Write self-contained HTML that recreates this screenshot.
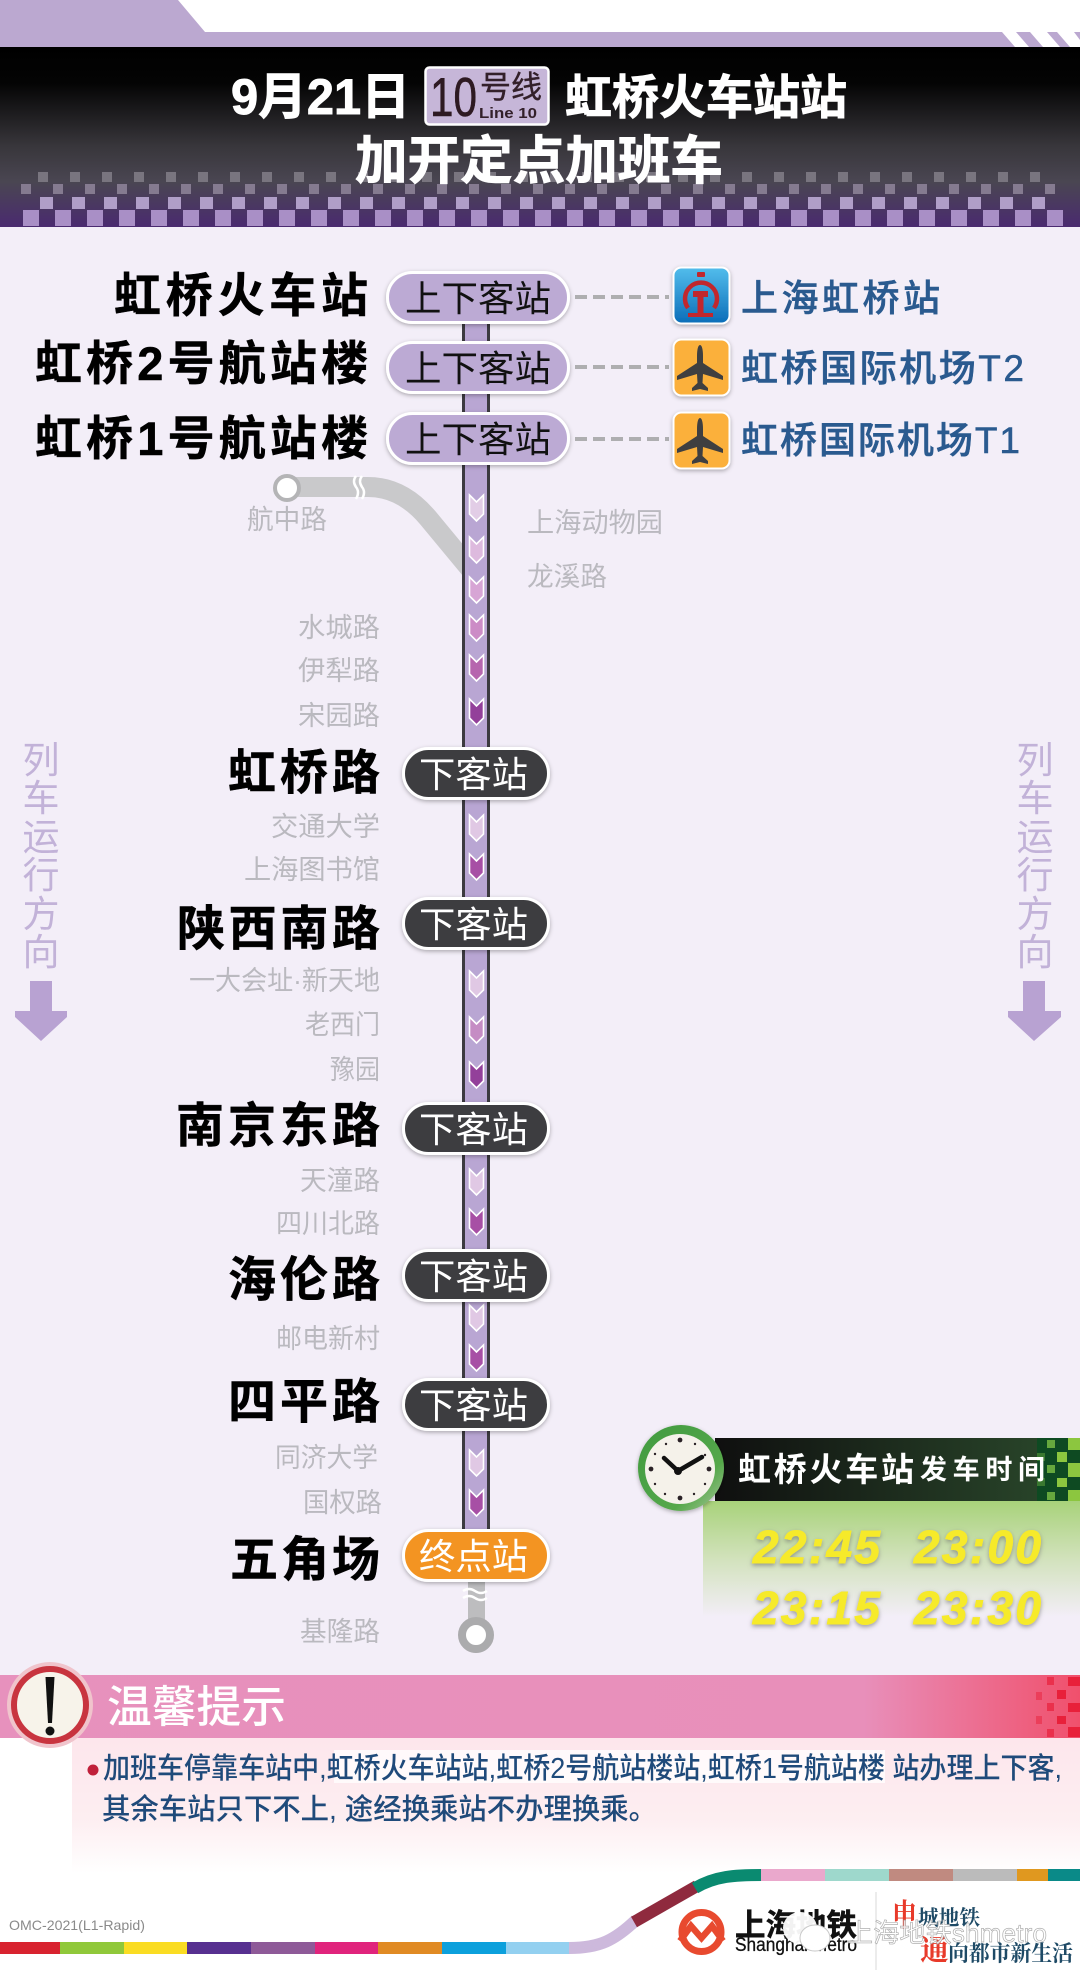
<!DOCTYPE html>
<html lang="zh"><head><meta charset="utf-8"><title>10号线 加班车</title>
<style>
html,body{margin:0;padding:0;background:#fff;width:1080px;height:1983px;overflow:hidden}
svg{display:block}
text{font-family:"Liberation Sans","Noto Sans CJK SC",sans-serif;white-space:pre}
.big{font-size:48px;font-weight:700;fill:#000;stroke:#000;stroke-width:.5;text-anchor:end}
.top{font-size:47px;font-weight:700;fill:#000;stroke:#000;stroke-width:.5;text-anchor:end}
.g{font-size:27px;fill:#bab9bf;text-anchor:end}
.gl{font-size:27px;fill:#bab9bf}
.pill{font-size:36px}
.blue{font-size:37px;fill:#2a5a8f;font-weight:500;stroke:#2a5a8f;stroke-width:.5}
.dir{font-size:37px;fill:#c2b2d8;text-anchor:middle}
.time{font-size:46px;font-weight:700;font-style:italic;fill:#f6ea2a;stroke:#f6ea2a;stroke-width:.9}
.note{font-size:29px;fill:#1f4a7a;font-weight:500}
.ser{font-family:"Liberation Serif","Noto Serif CJK SC",serif;font-weight:700}
.ti{fill:#fff;stroke:#fff;stroke-width:.9;font-weight:700}
</style></head><body>
<svg xmlns="http://www.w3.org/2000/svg" width="1080" height="1983" viewBox="0 0 1080 1983">
<defs>
<linearGradient id="hd" x1="0" y1="0" x2="0" y2="1"><stop offset="0" stop-color="#000"/><stop offset=".2" stop-color="#040404"/><stop offset=".55" stop-color="#38363b"/><stop offset=".75" stop-color="#4a4652"/><stop offset="1" stop-color="#4a2a70"/></linearGradient>
<linearGradient id="pk" x1="0" y1="0" x2="1" y2="0"><stop offset="0" stop-color="#e791bd"/><stop offset=".8" stop-color="#e88fba"/><stop offset="1" stop-color="#f0506c"/></linearGradient>
<linearGradient id="pale" x1="0" y1="0" x2="0" y2="1"><stop offset="0" stop-color="#fde6ec"/><stop offset=".6" stop-color="#fdeef1"/><stop offset="1" stop-color="#fff"/></linearGradient>
<linearGradient id="bar" x1="0" y1="0" x2="1" y2="0"><stop offset="0" stop-color="#0f0f0f"/><stop offset="1" stop-color="#2b4a2c"/></linearGradient>
<linearGradient id="grn" x1="0" y1="0" x2="0" y2="1"><stop offset="0" stop-color="#a8d27a"/><stop offset=".5" stop-color="#d2e2bc"/><stop offset="1" stop-color="#f3eef8"/></linearGradient>
<linearGradient id="ring" x1="0" y1="0" x2="1" y2="1"><stop offset="0" stop-color="#3f9a3f"/><stop offset=".7" stop-color="#55a84a"/><stop offset="1" stop-color="#a9c79a"/></linearGradient>
<linearGradient id="rail" x1="0" y1="0" x2="0" y2="1"><stop offset="0" stop-color="#53bdec"/><stop offset="1" stop-color="#0a6db8"/></linearGradient>
<filter id="sh" x="-10%" y="-20%" width="120%" height="150%"><feDropShadow dx="0" dy="1.5" stdDeviation="2" flood-color="#000" flood-opacity=".3"/></filter>
<filter id="ts" x="-10%" y="-20%" width="120%" height="150%"><feDropShadow dx="0" dy="2" stdDeviation="2.5" flood-color="#777" flood-opacity=".7"/></filter>
<pattern id="c1" width="32" height="10" patternUnits="userSpaceOnUse" x="38" y="172"><rect width="10" height="10" fill="#79757f"/></pattern>
<pattern id="c2" width="32" height="10" patternUnits="userSpaceOnUse" x="21" y="184"><rect width="10" height="10" fill="#857b90"/></pattern>
<pattern id="c3" width="32" height="12" patternUnits="userSpaceOnUse" x="40" y="197"><rect width="13" height="12" fill="#b09ec8"/></pattern>
<pattern id="c4" width="32" height="16" patternUnits="userSpaceOnUse" x="23" y="210"><rect width="16" height="16" fill="#a98fc6"/></pattern>
</defs>

<rect width="1080" height="1983" fill="#fff"/>
<rect x="0" y="227" width="1080" height="1448" fill="#f3eef8"/>

<!-- top band -->
<polygon points="0,0 178,0 205,32 1080,32 1080,47 0,47" fill="#bba8d0"/>
<polygon points="1002,32 1016,32 1029,47 1015,47" fill="#fff"/>
<polygon points="1030,32 1047,32 1060,47 1043,47" fill="#fff"/>
<polygon points="1057,32 1074,32 1080,40 1080,47 1070,47" fill="#fff"/>

<!-- header -->
<rect x="0" y="47" width="1080" height="180" fill="url(#hd)"/>
<rect x="38" y="172" width="1010" height="10" fill="url(#c1)"/>
<rect x="21" y="184" width="1040" height="10" fill="url(#c2)"/>
<rect x="40" y="197" width="1005" height="12" fill="url(#c3)"/>
<rect x="23" y="210" width="1040" height="16" fill="url(#c4)"/>

<text class="ti" x="231" y="114" font-size="50" textLength="179" lengthAdjust="spacingAndGlyphs">9月21日</text>
<rect x="425.5" y="67.5" width="123" height="57" rx="4" fill="#c6b6d8" stroke="#fff" stroke-width="2.5"/>
<text x="430" y="116" font-size="55" fill="#2e1a22" stroke="#2e1a22" stroke-width=".6" textLength="47" lengthAdjust="spacingAndGlyphs">10</text>
<text x="480" y="98" font-size="31" fill="#33202a" stroke="#33202a" stroke-width=".4" textLength="62" lengthAdjust="spacingAndGlyphs">号线</text>
<text x="479" y="118" font-size="15" font-weight="700" fill="#33202a" textLength="58" lengthAdjust="spacingAndGlyphs">Line 10</text>
<text class="ti" x="565" y="114" font-size="47" textLength="282" lengthAdjust="spacingAndGlyphs">虹桥火车站站</text>
<text class="ti" x="355" y="179" font-size="52" textLength="368" lengthAdjust="spacingAndGlyphs">加开定点加班车</text>

<!-- branch line -->
<path d="M287 487 H368 C392 487 412 499 428 518 L476 576" fill="none" stroke="#c9c9cb" stroke-width="20"/>
<path d="M356 476 q-4 5 0 11 q4 5 0 12 M362 476 q-4 5 0 11 q4 5 0 12" fill="none" stroke="#fff" stroke-width="2.5"/>
<circle cx="287" cy="488" r="12" fill="#fff" stroke="#b4b4b6" stroke-width="4"/>

<!-- trunk -->
<rect x="463.5" y="320" width="25" height="1215" fill="#b9a6d3" stroke="#3c3a40" stroke-width="3"/>

<!-- bottom stub -->
<rect x="468" y="1575" width="17" height="50" fill="#bdbdbf"/>
<circle cx="476" cy="1635" r="14" fill="#fff" stroke="#ababad" stroke-width="8"/>
<path d="M463 1591 q6 -4 12 0 q6 4 12 0 M463 1598 q6 -4 12 0 q6 4 12 0" fill="none" stroke="#fff" stroke-width="2.5"/>

<!-- chevrons -->
<g stroke="#fff" stroke-width="1.6">
<path transform="translate(476.5 508)" d="M-7 -13 L0 -6 L7 -13 V6 L0 13 L-7 6 Z" fill="#e2cde6"/>
<path transform="translate(476.5 550)" d="M-7 -13 L0 -6 L7 -13 V6 L0 13 L-7 6 Z" fill="#ddbade"/>
<path transform="translate(476.5 590)" d="M-7 -13 L0 -6 L7 -13 V6 L0 13 L-7 6 Z" fill="#d7a5d5"/>
<path transform="translate(476.5 628)" d="M-7 -13 L0 -6 L7 -13 V6 L0 13 L-7 6 Z" fill="#cc8cc6"/>
<path transform="translate(476.5 668)" d="M-7 -13 L0 -6 L7 -13 V6 L0 13 L-7 6 Z" fill="#b666ae"/>
<path transform="translate(476.5 712)" d="M-7 -13 L0 -6 L7 -13 V6 L0 13 L-7 6 Z" fill="#93409a"/>
<path transform="translate(476.5 828)" d="M-7 -13 L0 -6 L7 -13 V6 L0 13 L-7 6 Z" fill="#e0c8e4"/>
<path transform="translate(476.5 867)" d="M-7 -13 L0 -6 L7 -13 V6 L0 13 L-7 6 Z" fill="#a74fa5"/>
<path transform="translate(476.5 984)" d="M-7 -13 L0 -6 L7 -13 V6 L0 13 L-7 6 Z" fill="#e0c8e4"/>
<path transform="translate(476.5 1030)" d="M-7 -13 L0 -6 L7 -13 V6 L0 13 L-7 6 Z" fill="#c58cc4"/>
<path transform="translate(476.5 1075)" d="M-7 -13 L0 -6 L7 -13 V6 L0 13 L-7 6 Z" fill="#93409a"/>
<path transform="translate(476.5 1182)" d="M-7 -13 L0 -6 L7 -13 V6 L0 13 L-7 6 Z" fill="#e0c8e4"/>
<path transform="translate(476.5 1222)" d="M-7 -13 L0 -6 L7 -13 V6 L0 13 L-7 6 Z" fill="#a74fa5"/>
<path transform="translate(476.5 1318)" d="M-7 -13 L0 -6 L7 -13 V6 L0 13 L-7 6 Z" fill="#e0c8e4"/>
<path transform="translate(476.5 1358)" d="M-7 -13 L0 -6 L7 -13 V6 L0 13 L-7 6 Z" fill="#a74fa5"/>
<path transform="translate(476.5 1463)" d="M-7 -13 L0 -6 L7 -13 V6 L0 13 L-7 6 Z" fill="#e0c8e4"/>
<path transform="translate(476.5 1503)" d="M-7 -13 L0 -6 L7 -13 V6 L0 13 L-7 6 Z" fill="#a74fa5"/>
</g>

<!-- purple pills -->
<g fill="#bcaad4" stroke="#fff" stroke-width="3" filter="url(#sh)">
<rect x="387.5" y="272.5" width="181" height="50" rx="25"/>
<rect x="387.5" y="342.5" width="181" height="50" rx="25"/>
<rect x="387.5" y="413.5" width="181" height="50" rx="25"/>
</g>
<g class="pill" fill="#111">
<text class="pill" x="405" y="311" textLength="146" lengthAdjust="spacingAndGlyphs">上下客站</text>
<text class="pill" x="405" y="381" textLength="146" lengthAdjust="spacingAndGlyphs">上下客站</text>
<text class="pill" x="405" y="452" textLength="146" lengthAdjust="spacingAndGlyphs">上下客站</text>
</g>

<!-- dark pills -->
<g fill="#3d3d3f" stroke="#fff" stroke-width="3" filter="url(#sh)">
<rect x="403.5" y="748.5" width="145" height="50" rx="25"/>
<rect x="403.5" y="898.5" width="145" height="50" rx="25"/>
<rect x="403.5" y="1103.5" width="145" height="50" rx="25"/>
<rect x="403.5" y="1250.5" width="145" height="50" rx="25"/>
<rect x="403.5" y="1379.5" width="145" height="50" rx="25"/>
<rect x="403.5" y="1530.5" width="145" height="50" rx="25" fill="#f39420"/>
</g>
<g fill="#fff">
<text class="pill" x="419" y="787" textLength="109" lengthAdjust="spacingAndGlyphs">下客站</text>
<text class="pill" x="419" y="937" textLength="109" lengthAdjust="spacingAndGlyphs">下客站</text>
<text class="pill" x="419" y="1142" textLength="109" lengthAdjust="spacingAndGlyphs">下客站</text>
<text class="pill" x="419" y="1289" textLength="109" lengthAdjust="spacingAndGlyphs">下客站</text>
<text class="pill" x="419" y="1418" textLength="109" lengthAdjust="spacingAndGlyphs">下客站</text>
<text class="pill" x="419" y="1569" textLength="109" lengthAdjust="spacingAndGlyphs">终点站</text>
</g>

<!-- top station names -->
<text class="top" x="368" y="312" textLength="254" lengthAdjust="spacing">虹桥火车站</text>
<text class="top" x="368" y="380" textLength="333" lengthAdjust="spacing">虹桥2号航站楼</text>
<text class="top" x="368" y="455" textLength="333" lengthAdjust="spacing">虹桥1号航站楼</text>

<!-- big names -->
<text class="big" x="380" y="789" textLength="152" lengthAdjust="spacing">虹桥路</text>
<text class="big" x="380" y="945" textLength="203" lengthAdjust="spacing">陕西南路</text>
<text class="big" x="380" y="1142" textLength="204" lengthAdjust="spacing">南京东路</text>
<text class="big" x="380" y="1296" textLength="152" lengthAdjust="spacing">海伦路</text>
<text class="big" x="380" y="1418" textLength="152" lengthAdjust="spacing">四平路</text>
<text class="big" x="380" y="1576" textLength="150" lengthAdjust="spacing">五角场</text>

<!-- grey names -->
<text class="gl" x="247" y="529" textLength="80" lengthAdjust="spacingAndGlyphs">航中路</text>
<text class="gl" x="527" y="532" textLength="136" lengthAdjust="spacingAndGlyphs">上海动物园</text>
<text class="gl" x="527" y="586" textLength="80" lengthAdjust="spacingAndGlyphs">龙溪路</text>
<text class="g" x="380" y="637" textLength="82" lengthAdjust="spacingAndGlyphs">水城路</text>
<text class="g" x="380" y="680" textLength="82" lengthAdjust="spacingAndGlyphs">伊犁路</text>
<text class="g" x="380" y="725" textLength="82" lengthAdjust="spacingAndGlyphs">宋园路</text>
<text class="g" x="380" y="836" textLength="109" lengthAdjust="spacingAndGlyphs">交通大学</text>
<text class="g" x="380" y="879" textLength="136" lengthAdjust="spacingAndGlyphs">上海图书馆</text>
<text class="g" x="380" y="990" textLength="191" lengthAdjust="spacingAndGlyphs">一大会址·新天地</text>
<text class="g" x="380" y="1034" textLength="75" lengthAdjust="spacingAndGlyphs">老西门</text>
<text class="g" x="380" y="1079" textLength="50" lengthAdjust="spacingAndGlyphs">豫园</text>
<text class="g" x="380" y="1190" textLength="80" lengthAdjust="spacingAndGlyphs">天潼路</text>
<text class="g" x="380" y="1233" textLength="104" lengthAdjust="spacingAndGlyphs">四川北路</text>
<text class="g" x="380" y="1348" textLength="104" lengthAdjust="spacingAndGlyphs">邮电新村</text>
<text class="g" x="378" y="1467" textLength="103" lengthAdjust="spacingAndGlyphs">同济大学</text>
<text class="g" x="382" y="1512" textLength="79" lengthAdjust="spacingAndGlyphs">国权路</text>
<text class="g" x="380" y="1641" textLength="80" lengthAdjust="spacingAndGlyphs">基隆路</text>

<!-- dashes -->
<g stroke="#aeaeb0" stroke-width="4" stroke-dasharray="12 6">
<line x1="575" y1="297" x2="669" y2="297"/>
<line x1="575" y1="367" x2="669" y2="367"/>
<line x1="575" y1="439" x2="669" y2="439"/>
</g>

<!-- icons -->
<rect x="673.5" y="267.5" width="56" height="56" rx="8" fill="url(#rail)" stroke="#fff" stroke-width="2" filter="url(#sh)"/>
<path d="M688 308 A16 16 0 1 1 714 308" fill="none" stroke="#c1272d" stroke-width="4.5"/>
<rect x="697" y="272" width="8" height="5" rx="1" fill="#c1272d"/>
<path d="M693 291 H708 V297 H703.5 V313 H713 V317 H688 V313 H697.5 V297 H693 Z" fill="#c1272d"/>
<rect x="673.5" y="339.5" width="56" height="56" rx="8" fill="#fbb03a" stroke="#fff" stroke-width="2" filter="url(#sh)"/>
<rect x="673.5" y="412.5" width="56" height="56" rx="8" fill="#fbb03a" stroke="#fff" stroke-width="2" filter="url(#sh)"/>
<path transform="translate(700 368)" fill="#3f3f40" d="M0,-23 C2,-23 3,-18 3,-12 L3,-5 L23,8 L23,12 L3,6 L2.5,15 L8,20 L8,23 L0,21 L-8,23 L-8,20 L-2.5,15 L-3,6 L-23,12 L-23,8 L-3,-5 L-3,-12 C-3,-18 -2,-23 0,-23Z"/>
<path transform="translate(700 441)" fill="#3f3f40" d="M0,-23 C2,-23 3,-18 3,-12 L3,-5 L23,8 L23,12 L3,6 L2.5,15 L8,20 L8,23 L0,21 L-8,23 L-8,20 L-2.5,15 L-3,6 L-23,12 L-23,8 L-3,-5 L-3,-12 C-3,-18 -2,-23 0,-23Z"/>

<text class="blue" x="741" y="311" textLength="199" lengthAdjust="spacing">上海虹桥站</text>
<text class="blue" x="741" y="381" textLength="283" lengthAdjust="spacing">虹桥国际机场T2</text>
<text class="blue" x="741" y="453" textLength="279" lengthAdjust="spacing">虹桥国际机场T1</text>

<!-- direction -->
<g class="dirs">
<text class="dir" x="41" y="773">列</text><text class="dir" x="41" y="811">车</text><text class="dir" x="41" y="850">运</text><text class="dir" x="41" y="888">行</text><text class="dir" x="41" y="927">方</text><text class="dir" x="41" y="965">向</text>
<text class="dir" x="1035" y="773">列</text><text class="dir" x="1035" y="811">车</text><text class="dir" x="1035" y="850">运</text><text class="dir" x="1035" y="888">行</text><text class="dir" x="1035" y="927">方</text><text class="dir" x="1035" y="965">向</text>
</g>
<polygon points="30,981 52,981 52,1011 67,1011 67,1017 41,1041 15,1017 15,1011 30,1011" fill="#b8a2d2"/>
<polygon points="1023,981 1045,981 1045,1011 1061,1011 1061,1017 1034,1041 1008,1017 1008,1011 1023,1011" fill="#b8a2d2"/>

<!-- departure panel -->
<rect x="703" y="1501" width="377" height="116" fill="url(#grn)"/>
<rect x="715" y="1438" width="365" height="63" fill="url(#bar)"/>
<rect x="1037" y="1438" width="43" height="63" fill="#0e4a22"/>
<g fill="#66a83e">
<rect x="1047" y="1440" width="8" height="8"/><rect x="1047" y="1465" width="8" height="8"/><rect x="1047" y="1492" width="8" height="8"/>
<rect x="1037" y="1453" width="8" height="8" opacity=".5"/><rect x="1037" y="1478" width="8" height="8" opacity=".5"/>
</g>
<g fill="#8cc63f">
<rect x="1057" y="1452" width="10" height="10"/><rect x="1057" y="1478" width="10" height="9"/>
<rect x="1068" y="1438" width="12" height="12"/><rect x="1068" y="1463" width="12" height="14"/><rect x="1068" y="1490" width="12" height="11"/>
</g>
<circle cx="681" cy="1468" r="43" fill="url(#ring)" filter="url(#sh)"/>
<circle cx="680" cy="1469" r="35" fill="#f5f2ea"/>
<g fill="#2a2226">
<circle cx="680" cy="1440" r="2.4"/><circle cx="680" cy="1498" r="2.4"/><circle cx="651" cy="1469" r="2.4"/><circle cx="709" cy="1469" r="2.4"/>
<circle cx="666" cy="1444" r="1.2"/><circle cx="695" cy="1444" r="1.2"/><circle cx="655" cy="1454" r="1.2"/><circle cx="705" cy="1455" r="1.2"/><circle cx="655" cy="1484" r="1.2"/><circle cx="705" cy="1484" r="1.2"/><circle cx="665" cy="1494" r="1.2"/><circle cx="694" cy="1494" r="1.2"/>
</g>
<path d="M664 1458 L678 1471 M702 1457 L678 1471" stroke="#111" stroke-width="4.5" stroke-linecap="round" fill="none"/>
<circle cx="678" cy="1471" r="4" fill="#111"/>
<text x="738" y="1481" font-size="33" font-weight="700" fill="#fff" textLength="176" lengthAdjust="spacing">虹桥火车站</text>
<text x="920" y="1479" font-size="27" font-weight="700" fill="#fff" textLength="125" lengthAdjust="spacing">发车时间</text>
<g filter="url(#ts)">
<text class="time" x="753" y="1563" textLength="127" lengthAdjust="spacing">22:45</text>
<text class="time" x="914" y="1563" textLength="127" lengthAdjust="spacing">23:00</text>
<text class="time" x="753" y="1624" textLength="127" lengthAdjust="spacing">23:15</text>
<text class="time" x="914" y="1624" textLength="127" lengthAdjust="spacing">23:30</text>
</g>

<!-- notice -->
<rect x="72" y="1738" width="1008" height="135" fill="url(#pale)"/>
<rect x="334" y="1750" width="551" height="33" fill="#fff" opacity=".75"/>
<rect x="0" y="1675" width="1080" height="63" fill="url(#pk)"/>
<g fill="#e8203a">
<rect x="1047" y="1677" width="7" height="8" opacity=".7"/><rect x="1057" y="1690" width="9" height="9"/><rect x="1036" y="1692" width="6" height="8" opacity=".5"/><rect x="1068" y="1677" width="12" height="9"/>
<rect x="1047" y="1703" width="7" height="8" opacity=".7"/><rect x="1068" y="1703" width="12" height="9"/><rect x="1057" y="1716" width="9" height="8"/><rect x="1036" y="1716" width="6" height="8" opacity=".5"/><rect x="1047" y="1729" width="7" height="8" opacity=".7"/><rect x="1068" y="1727" width="12" height="10"/>
</g>
<circle cx="50" cy="1705" r="43" fill="#f0c4cc"/>
<circle cx="50" cy="1705" r="36" fill="#f7f3ea" stroke="#c8343f" stroke-width="6"/>
<path d="M45.5 1677 H54.5 L52 1723 H48 Z" fill="#111"/>
<circle cx="50" cy="1731" r="4.5" fill="#111"/>
<text x="107" y="1722" font-size="44" fill="#fff" font-weight="500" textLength="179" lengthAdjust="spacingAndGlyphs">温馨提示</text>

<circle cx="93" cy="1770" r="5.5" fill="#c0203a"/>
<text class="note" x="103" y="1778" textLength="959" lengthAdjust="spacingAndGlyphs">加班车停靠车站中,虹桥火车站站,虹桥2号航站楼站,虹桥1号航站楼 站办理上下客,</text>
<text class="note" x="102" y="1819" textLength="555" lengthAdjust="spacingAndGlyphs">其余车站只下不上, 途经换乘站不办理换乘。</text>

<!-- footer strip -->
<rect x="0" y="1942" width="60" height="12" fill="#d8232f"/>
<rect x="60" y="1942" width="64" height="12" fill="#90c83a"/>
<rect x="124" y="1942" width="63" height="12" fill="#fadc23"/>
<rect x="187" y="1942" width="64" height="12" fill="#573090"/>
<rect x="251" y="1942" width="64" height="12" fill="#8e5a98"/>
<rect x="315" y="1942" width="63" height="12" fill="#e0247c"/>
<rect x="378" y="1942" width="64" height="12" fill="#e08a24"/>
<rect x="442" y="1942" width="64" height="12" fill="#0ca0dc"/>
<rect x="506" y="1942" width="64" height="12" fill="#93d0f0"/>
<path d="M569 1948 C600 1948 615 1940 636 1920" fill="none" stroke="#cdb9dc" stroke-width="12"/>
<path d="M634 1922 L697 1886" fill="none" stroke="#8f2a3e" stroke-width="12"/>
<path d="M695 1888 C715 1876 735 1875 762 1875" fill="none" stroke="#0a8a70" stroke-width="12"/>
<rect x="761" y="1869" width="64" height="12" fill="#eaa8cc"/>
<rect x="825" y="1869" width="64" height="12" fill="#9ed8cc"/>
<rect x="889" y="1869" width="64" height="12" fill="#c08a80"/>
<rect x="953" y="1869" width="64" height="12" fill="#bbbbbb"/>
<rect x="1017" y="1869" width="31" height="12" fill="#e0981f"/>
<rect x="1048" y="1869" width="32" height="12" fill="#0a8a88"/>

<text x="9" y="1930" font-size="14" fill="#8a8a8a" textLength="136" lengthAdjust="spacingAndGlyphs">OMC-2021(L1-Rapid)</text>

<!-- logo -->
<circle cx="701.5" cy="1932" r="19.5" fill="#fff" stroke="#e84a2f" stroke-width="7"/>
<path d="M680 1941 L691 1926 L701.5 1938 L712 1926 L723 1941" fill="none" stroke="#e84a2f" stroke-width="6.5"/>
<text x="735" y="1936" font-size="31" font-weight="700" fill="#111" stroke="#111" stroke-width=".5" textLength="122" lengthAdjust="spacingAndGlyphs">上海地铁</text>
<text x="735" y="1951" font-size="19" fill="#111" stroke="#111" stroke-width=".3" textLength="122" lengthAdjust="spacingAndGlyphs">Shanghai Metro</text>
<line x1="876" y1="1892" x2="876" y2="1970" stroke="#d8d8d8" stroke-width="1"/>
<text class="ser" x="892" y="1926" font-size="31" fill="#e83a2a" textLength="25" lengthAdjust="spacingAndGlyphs">申</text>
<text class="ser" x="918" y="1925" font-size="21" fill="#1e4a66" textLength="62" lengthAdjust="spacingAndGlyphs">城地铁</text>
<text class="ser" x="920" y="1960" font-size="29" fill="#e83a2a">通</text>
<text class="ser" x="948" y="1961" font-size="22" fill="#1e4a66" textLength="125" lengthAdjust="spacingAndGlyphs">向都市新生活</text>
<!-- watermark -->
<ellipse cx="800" cy="1928" rx="17" ry="16" fill="#fff" opacity=".95"/>
<ellipse cx="815" cy="1938" rx="15" ry="13" fill="#fff" stroke="#c8c8c8" stroke-width="1"/>
<text x="847" y="1942" font-size="26" fill="#fff" stroke="#a8a8a8" stroke-width=".7" opacity=".9" textLength="200" lengthAdjust="spacing">上海地铁shmetro</text>
</svg>
</body></html>
